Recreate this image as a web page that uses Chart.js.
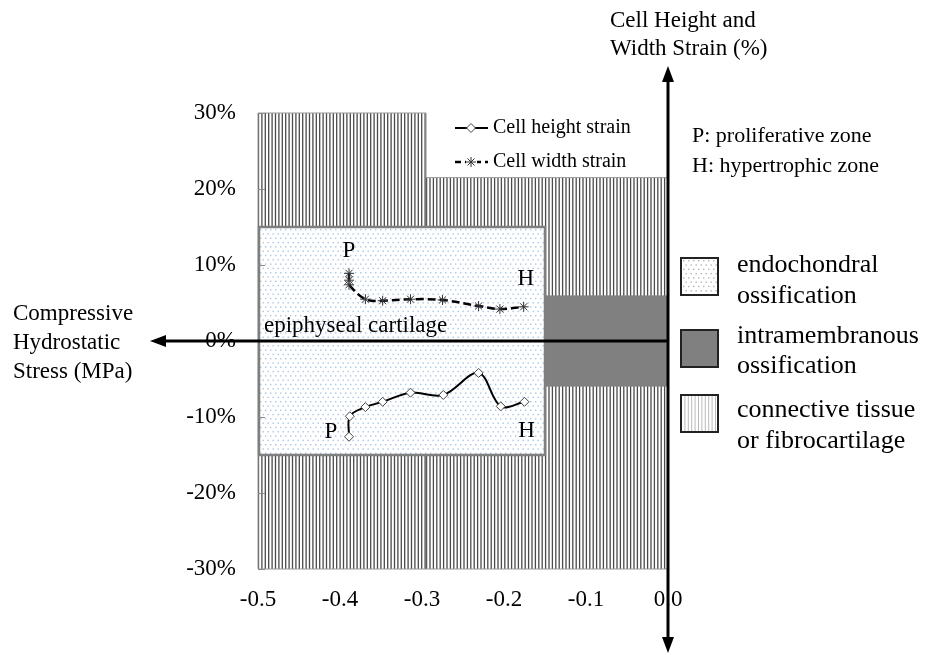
<!DOCTYPE html>
<html>
<head>
<meta charset="utf-8">
<script src="https://cdn.jsdelivr.net/npm/chart.js@4.4.0/dist/chart.umd.min.js"></script>
<style>
html, body { margin: 0; padding: 0; background: #fff; }
#wrap { position: relative; width: 935px; height: 655px; }
</style>
</head>
<body>
<div id="wrap"><canvas id="chart"></canvas></div>
<script>
// Compressive hydrostatic stress (MPa) vs strain (%)
const heightStress = [-0.389, -0.388, -0.369, -0.348, -0.314, -0.274, -0.231, -0.204, -0.175];
const heightStrain = [-12.6, -9.9, -8.7, -8.0, -6.8, -7.1, -4.2, -8.6, -8.0];
const widthStress = [-0.389, -0.389, -0.389, -0.369, -0.348, -0.314, -0.275, -0.231, -0.205, -0.176];
const widthStrain = [8.9, 8.0, 7.4, 5.5, 5.3, 5.5, 5.4, 4.6, 4.2, 4.5];

// tissue zones, in axis units
const connectiveStress = [-0.5, -0.295, 0];
const connectiveStrainTop = [30, 21.5];
const connectiveStrainBottom = -30;
const endochondralStress = [-0.5, -0.15];
const endochondralStrain = [-15, 15];
const intramembranousStress = [-0.15, 0];
const intramembranousStrain = [-6, 6];

const SERIF = "'Liberation Serif', 'Times New Roman', serif";
Chart.defaults.font.family = SERIF;
Chart.defaults.color = '#000';

function drawStripes(ctx, left, top, right, bottom, step, color, lw) {
    ctx.save();
    ctx.beginPath();
    ctx.rect(left, top, right - left, bottom - top);
    ctx.clip();
    ctx.fillStyle = '#fff';
    ctx.fillRect(left, top, right - left, bottom - top);
    ctx.strokeStyle = color;
    ctx.lineWidth = lw;
    ctx.beginPath();
    for (let x = left + 0.5; x < right; x += step) {
        ctx.moveTo(x, top);
        ctx.lineTo(x, bottom);
    }
    ctx.stroke();
    ctx.restore();
}

function drawDots(ctx, left, top, right, bottom, color) {
    ctx.save();
    ctx.fillStyle = '#fff';
    ctx.fillRect(left, top, right - left, bottom - top);
    ctx.fillStyle = color;
    let row = 0;
    for (let y = top + 2; y < bottom - 1; y += 4.3, row++) {
        for (let x = left + 2 + (row % 2) * 2.5; x < right - 1; x += 5) {
            ctx.fillRect(x, y, 1.4, 1.4);
        }
    }
    ctx.restore();
}

function arrowHead(ctx, x1, y1, x2, y2) {
    const a = Math.atan2(y2 - y1, x2 - x1);
    const c = Math.cos(a), s = Math.sin(a);
    const len = 16, half = 6;
    ctx.beginPath();
    ctx.moveTo(x1, y1);
    ctx.lineTo(x2 - c * len * 0.7, y2 - s * len * 0.7);
    ctx.stroke();
    ctx.beginPath();
    ctx.moveTo(x2, y2);
    ctx.lineTo(x2 - c * len - s * half, y2 - s * len + c * half);
    ctx.lineTo(x2 - c * len + s * half, y2 - s * len - c * half);
    ctx.closePath();
    ctx.fill();
}

function text(ctx, str, x, y, size, align) {
    ctx.font = size + 'px ' + SERIF;
    ctx.textAlign = align || 'left';
    ctx.textBaseline = 'alphabetic';
    ctx.fillStyle = '#000';
    ctx.fillText(str, x, y);
}

function marker(ctx, style, radius, stroke, x, y) {
    ctx.save();
    ctx.fillStyle = '#fff';
    ctx.strokeStyle = stroke;
    ctx.lineWidth = 1;
    ctx.setLineDash([]);
    Chart.helpers.drawPoint(ctx, {pointStyle: style, radius: radius, borderWidth: 1}, x, y);
    ctx.restore();
}

const zonesPlugin = {
    id: 'zones',
    beforeDatasetsDraw(chart) {
        const ctx = chart.ctx;
        const xs = chart.scales.x, ys = chart.scales.y;
        const bottom = ys.getPixelForValue(connectiveStrainBottom);

        // connective tissue / fibrocartilage (vertical stripes)
        for (let i = 0; i < connectiveStrainTop.length; i++) {
            const l = xs.getPixelForValue(connectiveStress[i]);
            const r = xs.getPixelForValue(connectiveStress[i + 1]);
            const t = ys.getPixelForValue(connectiveStrainTop[i]);
            drawStripes(ctx, l, t, r, bottom, 3.4, '#4a4a4a', 1.3);
        }
        ctx.save();
        ctx.strokeStyle = '#999';
        ctx.lineWidth = 1;
        ctx.beginPath();
        ctx.moveTo(xs.getPixelForValue(connectiveStress[0]), bottom);
        ctx.lineTo(xs.getPixelForValue(connectiveStress[0]), ys.getPixelForValue(connectiveStrainTop[0]));
        ctx.lineTo(xs.getPixelForValue(connectiveStress[1]), ys.getPixelForValue(connectiveStrainTop[0]));
        ctx.lineTo(xs.getPixelForValue(connectiveStress[1]), ys.getPixelForValue(connectiveStrainTop[1]));
        ctx.lineTo(xs.getPixelForValue(connectiveStress[2]), ys.getPixelForValue(connectiveStrainTop[1]));
        ctx.lineTo(xs.getPixelForValue(connectiveStress[2]), bottom);
        ctx.closePath();
        ctx.stroke();
        ctx.restore();

        // endochondral ossification (dotted)
        const el = xs.getPixelForValue(endochondralStress[0]);
        const er = xs.getPixelForValue(endochondralStress[1]);
        const et = ys.getPixelForValue(endochondralStrain[1]);
        const eb = ys.getPixelForValue(endochondralStrain[0]);
        drawDots(ctx, el, et, er, eb, '#a9c6e3');
        ctx.save();
        ctx.strokeStyle = '#7f7f7f';
        ctx.lineWidth = 2.5;
        ctx.strokeRect(el + 1, et, er - el - 1, eb - et);
        ctx.restore();

        // intramembranous ossification (solid grey)
        const il = xs.getPixelForValue(intramembranousStress[0]);
        const ir = xs.getPixelForValue(intramembranousStress[1]);
        const it = ys.getPixelForValue(intramembranousStrain[1]);
        const ib = ys.getPixelForValue(intramembranousStrain[0]);
        ctx.fillStyle = '#808080';
        ctx.fillRect(il + 1, it, ir - il - 1, ib - it);

        // inward y tick marks
        ctx.save();
        ctx.strokeStyle = '#8a8a8a';
        ctx.lineWidth = 1;
        ctx.beginPath();
        ys.ticks.forEach(t => {
            const y = Math.round(ys.getPixelForValue(t.value)) + 0.5;
            ctx.moveTo(xs.left, y);
            ctx.lineTo(xs.left + 7, y);
        });
        ctx.stroke();
        ctx.restore();
    },
    afterDraw(chart) {
        const ctx = chart.ctx;
        const xs = chart.scales.x, ys = chart.scales.y;
        const x0 = xs.getPixelForValue(0);
        const y0 = ys.getPixelForValue(0);

        // axes arrows
        ctx.save();
        ctx.strokeStyle = '#000';
        ctx.fillStyle = '#000';
        ctx.lineWidth = 3;
        arrowHead(ctx, x0, y0, x0, 66);
        arrowHead(ctx, x0, y0, x0, 653);
        arrowHead(ctx, x0, y0, 150, y0);
        ctx.restore();

        // axis titles
        text(ctx, 'Cell Height and', 610, 27, 23);
        text(ctx, 'Width Strain (%)', 610, 55, 23);
        text(ctx, 'Compressive', 13, 320, 23);
        text(ctx, 'Hydrostatic', 13, 349, 23);
        text(ctx, 'Stress (MPa)', 13, 378, 23);

        text(ctx, 'P: proliferative zone', 692, 142, 22);
        text(ctx, 'H: hypertrophic zone', 692, 172, 22);
        text(ctx, 'epiphyseal cartilage', 264, 332, 23);

        // P / H markers next to the curves
        const wFirst = [xs.getPixelForValue(widthStress[0]), ys.getPixelForValue(widthStrain[0])];
        const wLast = [xs.getPixelForValue(widthStress[widthStress.length - 1]), ys.getPixelForValue(widthStrain[widthStrain.length - 1])];
        const hFirst = [xs.getPixelForValue(heightStress[0]), ys.getPixelForValue(heightStrain[0])];
        const hLast = [xs.getPixelForValue(heightStress[heightStress.length - 1]), ys.getPixelForValue(heightStrain[heightStrain.length - 1])];
        text(ctx, 'P', wFirst[0], wFirst[1] - 16, 23, 'center');
        text(ctx, 'H', wLast[0] + 2, wLast[1] - 22, 23, 'center');
        text(ctx, 'P', hFirst[0] - 18, hFirst[1] + 1, 23, 'center');
        text(ctx, 'H', hLast[0] + 2, hLast[1] + 35, 23, 'center');

        // series legend
        ctx.save();
        ctx.strokeStyle = '#000';
        ctx.lineWidth = 2;
        ctx.beginPath();
        ctx.moveTo(455, 128); ctx.lineTo(488, 128);
        ctx.stroke();
        ctx.setLineDash([6, 4]);
        ctx.lineWidth = 2.5;
        ctx.beginPath();
        ctx.moveTo(455, 162); ctx.lineTo(488, 162);
        ctx.stroke();
        ctx.restore();
        marker(ctx, 'rectRot', 4.5, '#444', 471, 128);
        ctx.save();
        ctx.fillStyle = '#fff';
        ctx.fillRect(466, 156, 11, 12);
        ctx.restore();
        marker(ctx, 'star', 5, '#333', 471, 162);
        text(ctx, 'Cell height strain', 493, 133, 20);
        text(ctx, 'Cell width strain', 493, 167, 20);

        // zone legend
        ctx.save();
        drawDots(ctx, 681, 258, 718, 295, '#b5b5b5');
        ctx.strokeStyle = '#222';
        ctx.lineWidth = 2;
        ctx.strokeRect(681, 258, 37, 37);
        ctx.fillStyle = '#808080';
        ctx.fillRect(681, 330, 37, 37);
        ctx.strokeRect(681, 330, 37, 37);
        drawStripes(ctx, 681, 395, 718, 432, 3.4, '#bbbbbb', 1);
        ctx.strokeRect(681, 395, 37, 37);
        ctx.restore();
        text(ctx, 'endochondral', 737, 272, 26);
        text(ctx, 'ossification', 737, 303, 26);
        text(ctx, 'intramembranous', 737, 343, 26);
        text(ctx, 'ossification', 737, 373, 26);
        text(ctx, 'connective tissue', 737, 417, 26);
        text(ctx, 'or fibrocartilage', 737, 448, 26);
    }
};

new Chart(document.getElementById('chart'), {
    type: 'scatter',
    data: {
        datasets: [
            {
                label: 'Cell height strain',
                data: heightStress.map((x, i) => ({x: x, y: heightStrain[i]})),
                showLine: true,
                borderColor: '#000',
                borderWidth: 2,
                tension: 0.35,
                pointStyle: 'rectRot',
                pointRadius: 4.5,
                pointBorderWidth: 1,
                pointBorderColor: '#444',
                pointBackgroundColor: '#fff'
            },
            {
                label: 'Cell width strain',
                data: widthStress.map((x, i) => ({x: x, y: widthStrain[i]})),
                showLine: true,
                borderColor: '#000',
                borderWidth: 2.5,
                borderDash: [8, 4],
                tension: 0.35,
                pointStyle: 'star',
                pointRadius: 5,
                pointBorderWidth: 1,
                pointBorderColor: '#333',
                pointBackgroundColor: '#fff'
            }
        ]
    },
    options: {
        responsive: true,
        maintainAspectRatio: false,
        animation: false,
        layout: { padding: { left: 178, right: 267, top: 113, bottom: 26 } },
        plugins: {
            legend: { display: false },
            tooltip: { enabled: false }
        },
        scales: {
            x: {
                type: 'linear',
                min: -0.5,
                max: 0,
                grid: { display: false },
                border: { display: false },
                ticks: {
                    stepSize: 0.1,
                    padding: 9,
                    font: { size: 23 },
                    callback: v => Number(v).toFixed(1)
                },
                afterFit: s => { s.height = 60; }
            },
            y: {
                min: -30,
                max: 30,
                grid: { display: false },
                border: { display: false },
                ticks: {
                    stepSize: 10,
                    padding: 14,
                    font: { size: 23 },
                    callback: v => v + '%'
                },
                afterFit: s => { s.width = 80; }
            }
        }
    },
    plugins: [zonesPlugin]
});
</script>
</body>
</html>
